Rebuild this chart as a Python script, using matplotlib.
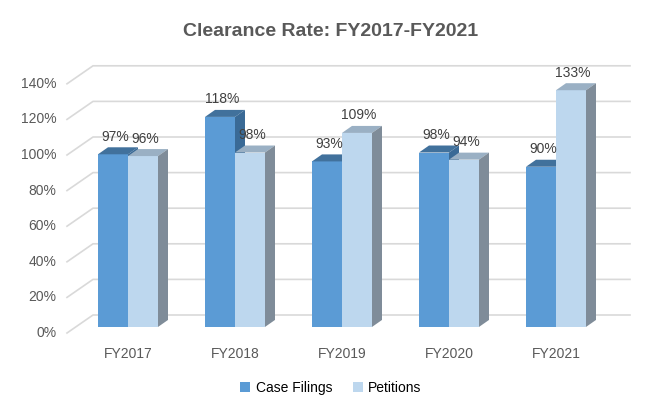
import matplotlib
matplotlib.use("Agg")
import matplotlib.pyplot as plt
from matplotlib.patches import Polygon
import numpy as np

categories = ["FY2017", "FY2018", "FY2019", "FY2020", "FY2021"]
case_filings = [97, 118, 93, 98, 90]
petitions = [96, 98, 109, 94, 133]
yticks = [0, 20, 40, 60, 80, 100, 120, 140]

W, H = 662, 408
fig = plt.figure(figsize=(W/100, H/100), dpi=100)
x0p, x1p, ytop, ybot = 67, 640, 50, 333
ax = fig.add_axes([x0p/W, 1-ybot/H, (x1p-x0p)/W, (ybot-ytop)/H])
pxx = 107.0  # px per category
pxy = 1.78   # px per percent
xmin = (x0p-128)/pxx
xmax = xmin + (x1p-x0p)/pxx
ax.set_xlim(xmin, xmax)
ax.set_ylim(0, (ybot-ytop)/pxy)
ax.axis("off")

# gridlines (3D back wall)
gdx, gdy = 26/pxx, 18/pxy
backx = (630-128)/pxx
for t in yticks:
    ax.plot([xmin, xmin+gdx, backx], [t, t+gdy, t+gdy], color="#d9d9d9", lw=1.2, zorder=1, clip_on=False)
    ax.text(xmin-0.1, t, f"{t}%", ha="right", va="center", fontsize=10, color="#595959",
            family="Liberation Sans")

bw = 30/pxx
ddx, ddy = 10/pxx, 7/pxy
base = 3.4
series = [(case_filings, -bw, "#5b9bd5", "#41719c", "#3a6a96"),
          (petitions, 0, "#bdd7ee", "#9ab0c4", "#7f8c99")]
for vals, off, cf, ct, cs in series:
    for i, v in enumerate(vals):
        x = i + off
        top = base + v
        ax.add_patch(Polygon([[x, base], [x+bw, base], [x+bw, top], [x, top]], closed=True, fc=cf, ec="none", zorder=3))
        ax.add_patch(Polygon([[x, top], [x+ddx, top+ddy], [x+bw+ddx, top+ddy], [x+bw, top]], closed=True, fc=ct, ec="none", zorder=3))
        ax.add_patch(Polygon([[x+bw, base], [x+bw+ddx, base+ddy], [x+bw+ddx, top+ddy], [x+bw, top]], closed=True, fc=cs, ec="none", zorder=3))
        ax.text(x+bw/2+0.02, top+ddy+2, f"{v}%", ha="center", va="bottom", fontsize=10, color="#404040",
                family="Liberation Sans", zorder=4)

for i, c in enumerate(categories):
    ax.text(i, -8, c, ha="center", va="top", fontsize=10, color="#595959", family="Liberation Sans", clip_on=False)

fig.text(0.5, 1-32/H, "Clearance Rate: FY2017-FY2021", ha="center", va="center", fontsize=14,
         fontweight="bold", color="#595959", family="Liberation Sans")

# legend
from matplotlib.patches import Patch
fig.legend(handles=[Patch(fc="#5b9bd5"), Patch(fc="#bdd7ee")], labels=["Case Filings", "Petitions"],
           loc="center", bbox_to_anchor=(0.5, 1-388/H), ncol=2, frameon=False, fontsize=10,
           handlelength=0.7, handleheight=0.7, columnspacing=1.5, handletextpad=0.4,
           prop={"family": "Liberation Sans", "size": 10})
fig.savefig("out.png", dpi=100)
